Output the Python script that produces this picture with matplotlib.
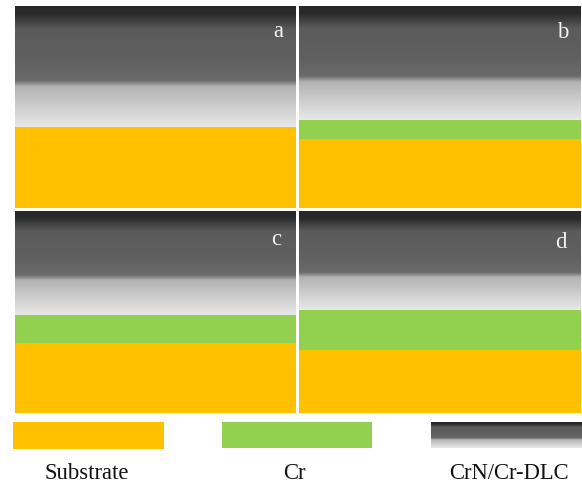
import numpy as np
import matplotlib
matplotlib.use("Agg")
import matplotlib.pyplot as plt
from matplotlib.colors import LinearSegmentedColormap

# Layer build-up of each sample, as percent of the panel height
panels = ["a", "b", "c", "d"]
substrate_pct = [40.0, 34.0, 34.5, 31.0]
cr_pct = [0.0, 9.5, 14.0, 20.0]
legend_labels = ["Substrate", "Cr", "CrN/Cr-DLC"]

SUBSTRATE = "#FFC000"
CR = "#92D050"

# Grey ramp for the CrN/Cr-DLC coating: dark at the surface, pale near the interface
coat_cmap = LinearSegmentedColormap.from_list(
    "coating",
    [(0.00, "#282828"), (0.07, "#2a2a2a"), (0.20, "#5b5b5b"), (0.45, "#606060"),
     (0.62, "#6b6b6b"), (0.67, "#b3b3b3"), (1.00, "#e8e8e8")],
)
ramp = np.linspace(0, 1, 400).reshape(-1, 1)

W, H = 582, 485
fig = plt.figure(figsize=(W / 100, H / 100), dpi=100)
serif = ["Liberation Serif", "DejaVu Serif"]


def px_axes(x0, y0, x1, y1):
    return fig.add_axes([x0 / W, 1 - y1 / H, (x1 - x0) / W, (y1 - y0) / H])


boxes = [(15, 7, 296, 209), (299, 7, 581, 209), (15, 212, 296, 414), (299, 212, 581, 414)]
letter_pos = [(0.937, 0.851), (0.935, 0.847), (0.929, 0.837), (0.929, 0.822)]

for name, sub, cr, box, (lx, ly) in zip(panels, substrate_pct, cr_pct, boxes, letter_pos):
    ax = px_axes(*box)
    ax.bar(0, sub, width=1, bottom=0, color=SUBSTRATE, linewidth=0)
    if cr > 0:
        ax.bar(0, cr, width=1, bottom=sub, color=CR, linewidth=0)
    ax.imshow(ramp, cmap=coat_cmap, aspect="auto", origin="upper",
              extent=[-0.5, 0.5, sub + cr, 100], interpolation="bilinear")
    ax.set_xlim(-0.5, 0.5)
    ax.set_ylim(0, 100)
    ax.axis("off")
    ax.text(lx, ly, name, transform=ax.transAxes, ha="center", va="baseline",
            color="#f2f2f2", fontsize=16.3, family=serif)

# Legend swatches
swatches = [(13, 423, 164, 449.5), (222, 423, 372, 449), (431, 423, 582, 449)]
label_x = [86.5, 294, 508.5]
for i, (box, lab, lx) in enumerate(zip(swatches, legend_labels, label_x)):
    ax = px_axes(*box)
    if i == 0:
        ax.bar(0, 1, width=1, color=SUBSTRATE, linewidth=0)
    elif i == 1:
        ax.bar(0, 1, width=1, color=CR, linewidth=0)
    else:
        ax.imshow(ramp, cmap=coat_cmap, aspect="auto", origin="upper",
                  extent=[-0.5, 0.5, 0, 1], interpolation="bilinear")
    ax.set_xlim(-0.5, 0.5)
    ax.set_ylim(0, 1)
    ax.axis("off")
    fig.text(lx / W, 1 - 479.5 / H, lab, ha="center", va="baseline",
             fontsize=16.3, family=serif, color="#111111")

fig.savefig("out.png", dpi=100)
